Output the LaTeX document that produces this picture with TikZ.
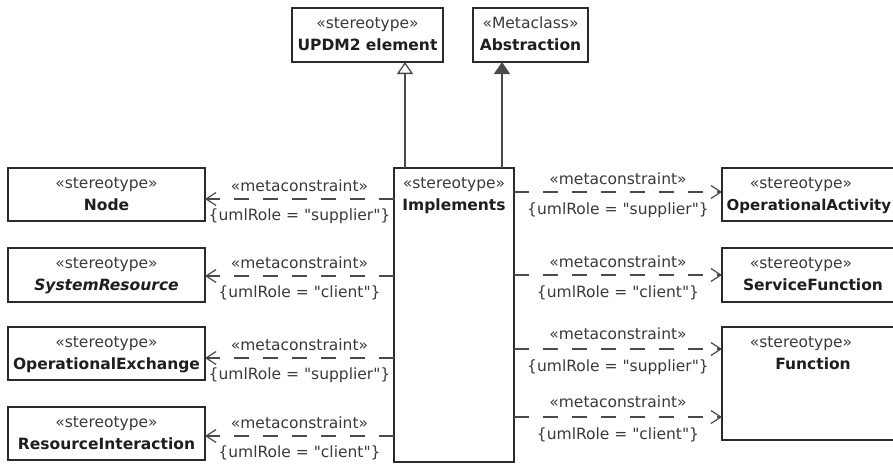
\documentclass[tikz,border=0pt]{standalone}
\usepackage{fontspec}
\setmainfont{DejaVu Sans}[Ligatures=TeXOff]
\usetikzlibrary{arrows.meta}
\definecolor{boxline}{HTML}{2B2B2B}
\definecolor{conn}{HTML}{4A4A4A}
\definecolor{txtgray}{HTML}{3A3A3A}
\definecolor{txtdark}{HTML}{1E1E1E}
\begin{document}
\begin{tikzpicture}[x=1pt,y=-1pt,
  box/.style={draw=boxline, line width=1.5pt, fill=white, inner sep=0pt, outer sep=0pt},
  st/.style={anchor=base, inner sep=0pt, font=\fontsize{15.5}{18}\selectfont, text=txtgray},
  nm/.style={anchor=base, inner sep=0pt, font=\fontsize{15.5}{18}\selectfont\bfseries, text=txtdark},
  lab/.style={anchor=base, inner sep=0pt, font=\fontsize{15.5}{18}\selectfont, text=txtgray},
  dep/.style={draw=conn, line width=1.2pt, dash pattern=on 15pt off 14pt,
    -{Straight Barb[length=10pt,width=13pt,line width=1.2pt]}},
  gen/.style={draw=conn, line width=1.3pt, -{Triangle[open,length=12pt,width=16pt,fill=white]}},
  ext/.style={draw=conn, line width=1.3pt, -{Triangle[length=12pt,width=16pt,fill=conn]}}
]
\useasboundingbox (0,0) rectangle (893,463);
\fill[white] (0,0) rectangle (893,463);
\clip (0,0) rectangle (893,463);

% top boxes
\node[box, minimum width=151pt, minimum height=54pt] (updm) at (367.5,35) {};
\node[st] (updm-s) at ([yshift=-20pt]updm.north) {«stereotype»};
\node[nm] (updm-n) at ([yshift=-42pt]updm.north) {UPDM2 element};
\node[box, minimum width=115pt, minimum height=54pt] (abs) at (530.5,35) {};
\node[st] (abs-s) at ([yshift=-20pt]abs.north) {«Metaclass»};
\node[nm] (abs-n) at ([yshift=-42pt]abs.north) {Abstraction};

% Implements
\node[box, minimum width=120pt, minimum height=294pt] (impl) at (454,315) {};
\node[st] (impl-s) at ([yshift=-20pt]impl.north) {«stereotype»};
\node[nm] (impl-n) at ([yshift=-42pt]impl.north) {Implements};

\coordinate (g1) at ([xshift=11pt]impl.north west);
\coordinate (g2) at ([xshift=-12pt]impl.north east);
\draw[gen] (g1) -- (g1 |- updm.south);
\draw[ext] (g2) -- (g2 |- abs.south);

% left boxes
\node[box, minimum width=197pt, minimum height=53pt] (nd) at (106.5,194.5) {};
\node[st] (nd-s) at ([yshift=-20pt]nd.north) {«stereotype»};
\node[nm] (nd-n) at ([yshift=-42pt]nd.north) {Node};
\node[box, minimum width=197pt, minimum height=54pt] (sr) at (106.5,275) {};
\node[st] (sr-s) at ([yshift=-20pt]sr.north) {«stereotype»};
\node[nm] (sr-n) at ([yshift=-42pt]sr.north) {\itshape SystemResource};
\node[box, minimum width=197pt, minimum height=53pt] (oe) at (106.5,353.5) {};
\node[st] (oe-s) at ([yshift=-20pt]oe.north) {«stereotype»};
\node[nm] (oe-n) at ([yshift=-42pt]oe.north) {OperationalExchange};
\node[box, minimum width=197pt, minimum height=53pt] (ri) at (106.5,433.5) {};
\node[st] (ri-s) at ([yshift=-20pt]ri.north) {«stereotype»};
\node[nm] (ri-n) at ([yshift=-42pt]ri.north) {ResourceInteraction};

% right boxes
\node[box, minimum width=182pt, minimum height=53pt] (oa) at (813,194.5) {};
\node[st] (oa-s) at ([xshift=-12pt,yshift=-20pt]oa.north) {«stereotype»};
\node[nm, anchor=base west, font=\fontsize{15}{18}\selectfont\bfseries] (oa-n) at ([xshift=4.5pt,yshift=-42pt]oa.north west) {OperationalActivity};
\node[box, minimum width=182pt, minimum height=54pt] (sf) at (813,275) {};
\node[st] (sf-s) at ([xshift=-12pt,yshift=-20pt]sf.north) {«stereotype»};
\node[nm] (sf-n) at ([yshift=-42pt]sf.north) {ServiceFunction};
\node[box, minimum width=182pt, minimum height=113pt] (fn) at (813,383.5) {};
\node[st] (fn-s) at ([xshift=-12pt,yshift=-20pt]fn.north) {«stereotype»};
\node[nm] (fn-n) at ([yshift=-42pt]fn.north) {Function};

% left connectors
\coordinate (l1) at ([yshift=-4.5pt]nd.east);
\coordinate (l2) at ([yshift=-1pt]sr.east);
\coordinate (l3) at ([yshift=-4.5pt]oe.east);
\coordinate (l4) at ([yshift=-2.5pt]ri.east);
\draw[dep] (impl.west |- l1) -- (l1)
  node[lab, pos=.5, yshift=8pt] (l1a) {«metaconstraint»}
  node[lab, pos=.5, yshift=-21pt] (l1b) {\{umlRole = "supplier"\}};
\draw[dep] (impl.west |- l2) -- (l2)
  node[lab, pos=.5, yshift=8pt] (l2a) {«metaconstraint»}
  node[lab, pos=.5, yshift=-21pt] (l2b) {\{umlRole = "client"\}};
\draw[dep] (impl.west |- l3) -- (l3)
  node[lab, pos=.5, yshift=8pt] (l3a) {«metaconstraint»}
  node[lab, pos=.5, yshift=-21pt] (l3b) {\{umlRole = "supplier"\}};
\draw[dep] (impl.west |- l4) -- (l4)
  node[lab, pos=.5, yshift=8pt] (l4a) {«metaconstraint»}
  node[lab, pos=.5, yshift=-21pt] (l4b) {\{umlRole = "client"\}};

% right connectors
\coordinate (r1) at ([yshift=2.5pt]oa.west);
\coordinate (r2) at (sf.west);
\coordinate (r3) at ([yshift=34.5pt]fn.west);
\coordinate (r4) at ([yshift=-33.5pt]fn.west);
\draw[dep] (impl.east |- r1) -- (r1)
  node[lab, pos=.5, yshift=8pt] (r1a) {«metaconstraint»}
  node[lab, pos=.5, yshift=-22pt] (r1b) {\{umlRole = "supplier"\}};
\draw[dep] (impl.east |- r2) -- (r2)
  node[lab, pos=.5, yshift=8pt] (r2a) {«metaconstraint»}
  node[lab, pos=.5, yshift=-22pt] (r2b) {\{umlRole = "client"\}};
\draw[dep] (impl.east |- r3) -- (r3)
  node[lab, pos=.5, yshift=10pt] (r3a) {«metaconstraint»}
  node[lab, pos=.5, yshift=-22pt] (r3b) {\{umlRole = "supplier"\}};
\draw[dep] (impl.east |- r4) -- (r4)
  node[lab, pos=.5, yshift=10pt] (r4a) {«metaconstraint»}
  node[lab, pos=.5, yshift=-22pt] (r4b) {\{umlRole = "client"\}};
\end{tikzpicture}
\end{document}
